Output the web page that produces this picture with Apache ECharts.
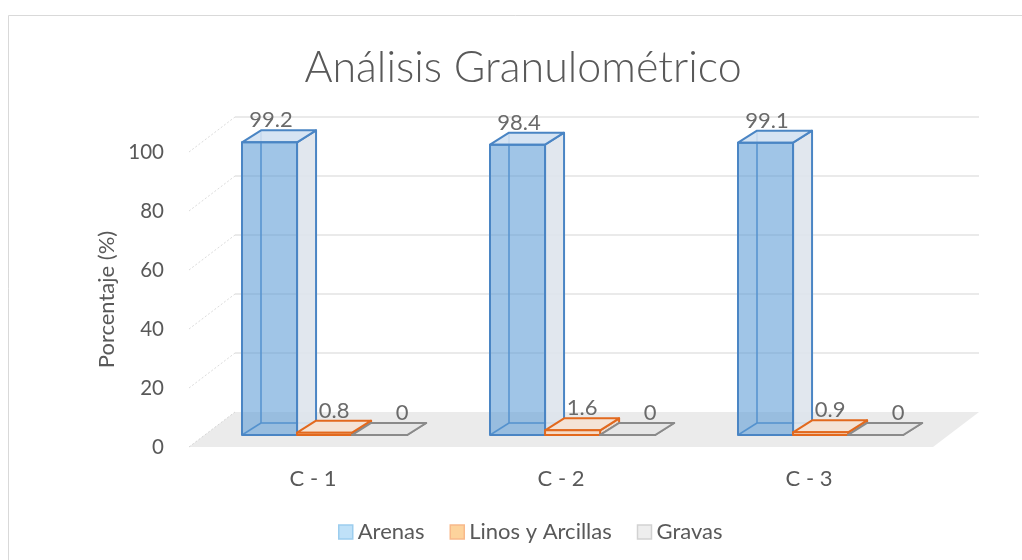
<!DOCTYPE html>
<html><head><meta charset="utf-8">
<script src="https://cdn.jsdelivr.net/npm/echarts@6/dist/echarts.min.js"></script>
<style>html,body{margin:0;padding:0;background:#fff}#c{width:1022px;height:560px}</style>
</head><body><div id="c"></div>
<script>
const categories = ['C - 1', 'C - 2', 'C - 3'];
const seriesNames = ['Arenas', 'Linos y Arcillas', 'Gravas'];
const arenas = [99.2, 98.4, 99.1];
const linos = [0.8, 1.6, 0.9];
const gravas = [0, 0, 0];
const yTicks = [0, 20, 40, 60, 80, 100];

const FONT = 'Lato, "Open Sans", sans-serif';
const TXT = '#595959';
const WALL_DX = 46, WALL_DY = -35;
const BAR_DX = 19, BAR_DY = -12;
const FRONT_SHIFT_Y = -12;
const LABEL_DX = [-8, 0, 13];
const styles = [
  {edge: '#4a85c4', front: 'rgba(91,155,213,0.58)', top: 'rgba(210,225,242,0.9)', side: 'rgba(222,228,236,0.9)'},
  {edge: '#e2691e', front: '#f5dac6', top: '#f4e3d6', side: '#ecdcd0'},
  {edge: '#8a8a8a', front: '#e4e4e4', top: '#e6e6e6', side: '#dcdcdc'}
];
const legendStyles = [
  {color: '#bfe1f8', borderColor: '#9ccdee'},
  {color: '#fdd39c', borderColor: '#f8b98a'},
  {color: '#eeeeee', borderColor: '#d2d2d2'}
];

function barRender(si) {
  return function (params, api) {
    const idx = api.value(0), val = api.value(1);
    const w = api.size([1, 0])[0];
    const c0 = api.coord([idx, 0]);
    const c1 = api.coord([idx, val]);
    const bw = w * 0.222;
    const x0 = c0[0] - 0.2863 * w + si * bw;
    const x1 = x0 + bw;
    const yb = c0[1] + FRONT_SHIFT_Y;
    const yt = c1[1] + FRONT_SHIFT_Y;
    const s = styles[si];
    const dx = BAR_DX, dy = BAR_DY;
    const ch = [];
    ch.push({type: 'polyline', shape: {points: [[x0 + dx, yt + dy], [x0 + dx, yb + dy], [x1 + dx, yb + dy]]},
      style: {stroke: s.edge, lineWidth: 1.5, fill: null}});
    ch.push({type: 'line', shape: {x1: x0, y1: yb, x2: x0 + dx, y2: yb + dy}, style: {stroke: s.edge, lineWidth: 1.5}});
    ch.push({type: 'polygon', shape: {points: [[x1, yb], [x1 + dx, yb + dy], [x1 + dx, yt + dy], [x1, yt]]},
      style: {fill: s.side, stroke: s.edge, lineWidth: 2, lineJoin: 'round'}});
    ch.push({type: 'polygon', shape: {points: [[x0, yt], [x1, yt], [x1 + dx, yt + dy], [x0 + dx, yt + dy]]},
      style: {fill: s.top, stroke: s.edge, lineWidth: 2, lineJoin: 'round'}});
    ch.push({type: 'polygon', shape: {points: [[x0, yb], [x1, yb], [x1, yt], [x0, yt]]},
      style: {fill: s.front, stroke: s.edge, lineWidth: 2, lineJoin: 'round'}});
    ch.push({type: 'text', x: (x0 + x1) / 2 + dx / 2 + LABEL_DX[si], y: yt + dy + 1,
      style: {text: String(val), textAlign: 'center', textVerticalAlign: 'bottom', fill: '#6a6a6a',
        font: '22px ' + FONT}});
    return {type: 'group', children: ch};
  };
}

function wallRender(params, api) {
  const v = api.value(1);
  const cs = params.coordSys;
  const gx = cs.x, gw = cs.width;
  const y = api.coord([0, v])[1];
  const ch = [];
  if (v === 0) {
    ch.push({type: 'polygon', shape: {points: [[gx, y], [gx + gw, y], [gx + gw + WALL_DX, y + WALL_DY], [gx + WALL_DX, y + WALL_DY]]},
      style: {fill: '#ebebeb', stroke: null}});
    ch.push({type: 'line', shape: {x1: gx, y1: y, x2: gx + WALL_DX, y2: y + WALL_DY},
      style: {stroke: '#d6d6d6', lineWidth: 1, lineDash: [2, 2]}});
  } else {
    ch.push({type: 'line', shape: {x1: gx + WALL_DX, y1: y + WALL_DY, x2: gx + gw + WALL_DX, y2: y + WALL_DY},
      style: {stroke: '#e3e3e3', lineWidth: 1.5}});
    ch.push({type: 'line', shape: {x1: gx, y1: y, x2: gx + WALL_DX, y2: y + WALL_DY},
      style: {stroke: '#dcdcdc', lineWidth: 1, lineDash: [2, 2]}});
  }
  return {type: 'group', children: ch};
}

const values = [arenas, linos, gravas];
const chart = echarts.init(document.getElementById('c'));
chart.setOption({
  animation: false,
  backgroundColor: '#fff',
  graphic: [
    {type: 'rect', shape: {x: 8.5, y: 15.5, width: 1100, height: 600}, style: {fill: null, stroke: '#d9d9d9', lineWidth: 1}, silent: true},
    {type: 'text', x: 523, y: 68, style: {text: 'Análisis Granulométrico', textAlign: 'center', textVerticalAlign: 'middle',
      fill: TXT, font: '300 43px ' + FONT}}
  ],
  legend: {
    left: 333, top: 516, itemWidth: 14, itemHeight: 14, itemGap: 25, icon: 'rect',
    textStyle: {color: TXT, fontSize: 22, fontFamily: FONT},
    data: seriesNames.map((n, i) => ({name: n, itemStyle: {color: legendStyles[i].color, borderColor: legendStyles[i].borderColor, borderWidth: 1.5}}))
  },
  grid: {left: 189, right: 89, top: 152, bottom: 113},
  xAxis: {
    type: 'category', data: categories,
    axisLine: {show: false}, axisTick: {show: false},
    axisLabel: {color: TXT, fontSize: 22, fontFamily: FONT, margin: 21}
  },
  yAxis: {
    type: 'value', min: 0, max: 100, interval: 20,
    splitLine: {show: false}, axisLine: {show: false}, axisTick: {show: false},
    axisLabel: {color: TXT, fontSize: 20.5, fontFamily: FONT, margin: 25},
    name: 'Porcentaje (%)', nameLocation: 'middle', nameGap: 67, nameRotate: 90,
    nameTextStyle: {color: TXT, fontSize: 22, fontFamily: FONT}
  },
  series: [
    {type: 'custom', name: '_wall', silent: true, z: 1, renderItem: wallRender,
      data: yTicks.map(v => [0, v])},
  ].concat(seriesNames.map((n, i) => ({
    type: 'custom', name: n, z: 2 + i, renderItem: barRender(i),
    itemStyle: {color: legendStyles[i].color},
    data: values[i].map((v, k) => [k, v])
  })))
});
</script></body></html>
